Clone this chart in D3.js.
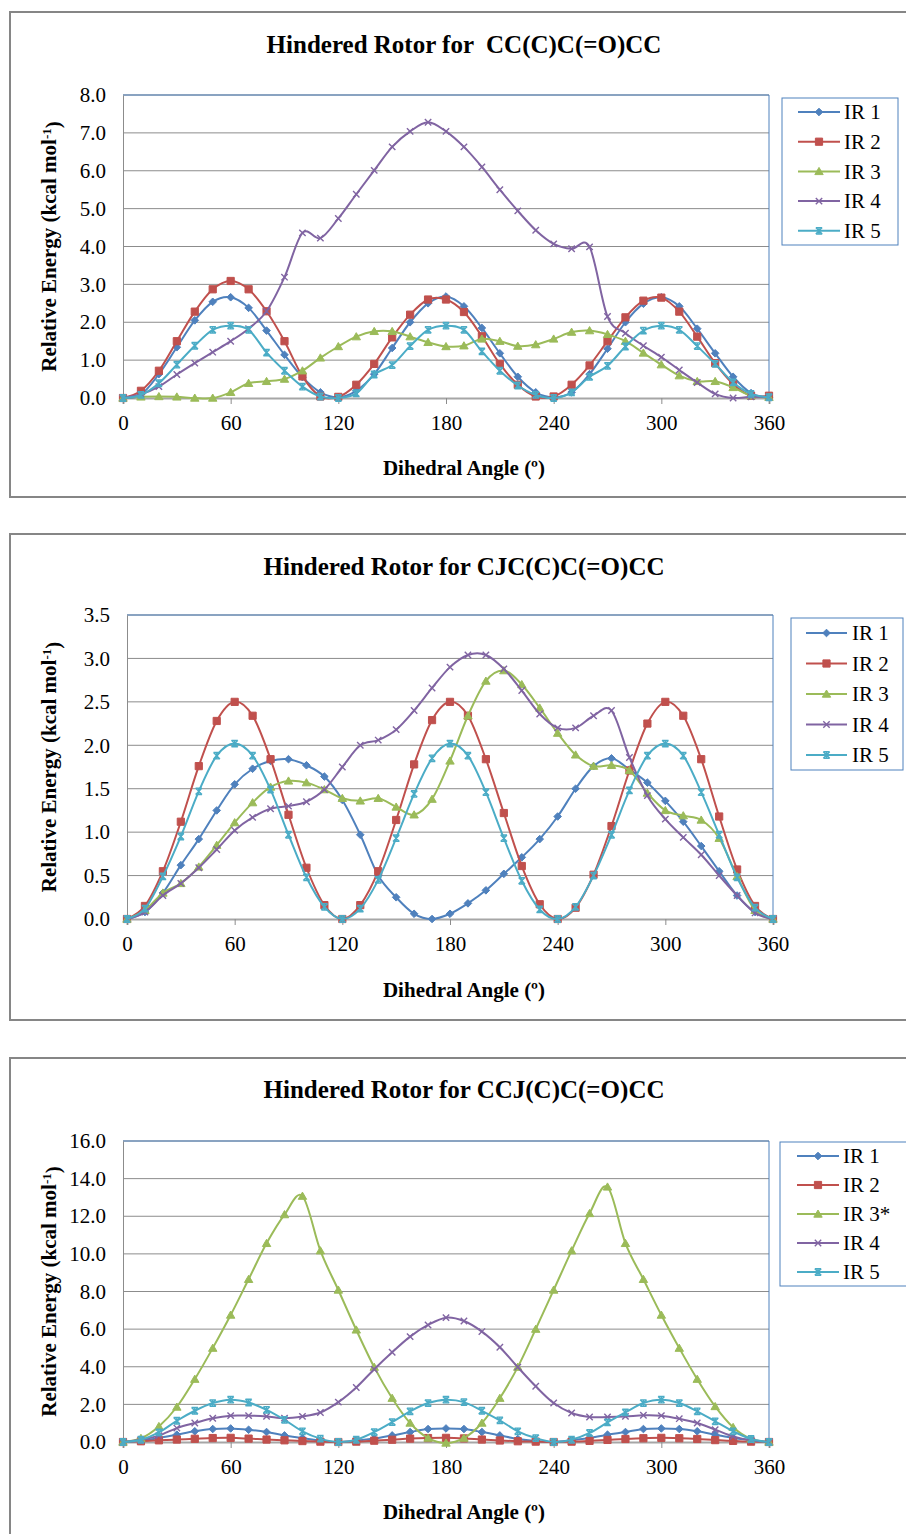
<!DOCTYPE html>
<html>
<head>
<meta charset="utf-8">
<script src="https://cdn.jsdelivr.net/npm/d3@7"></script>
<style>
  body { margin: 0; background: #fff; }
  text { font-family: "Liberation Serif", "Times New Roman", serif; fill: #000; }
</style>
</head>
<body>
<div class="chart"></div>
<script>
// dihedral angles (deg), shared by all three scans
const angles = [0, 10, 20, 30, 40, 50, 60, 70, 80, 90, 100, 110, 120, 130, 140, 150, 160, 170, 180,
    190, 200, 210, 220, 230, 240, 250, 260, 270, 280, 290, 300, 310, 320, 330, 340, 350, 360];
const xTicks = [0, 60, 120, 180, 240, 300, 360];
const seriesNames = ['IR 1', 'IR 2', 'IR 3', 'IR 4', 'IR 5'];
const seriesNamesCCJ = ['IR 1', 'IR 2', 'IR 3*', 'IR 4', 'IR 5'];

// CC(C)C(=O)CC
const ccTitle = 'Hindered Rotor for  CC(C)C(=O)CC';
const ccYTicks = [0, 1, 2, 3, 4, 5, 6, 7, 8];
const ccIR1 = [0, 0.09, 0.63, 1.34, 2.05, 2.54, 2.66, 2.38, 1.78, 1.14, 0.55, 0.15, 0.02, 0.19, 0.63, 1.32, 2.00, 2.50, 2.68,
    2.42, 1.85, 1.18, 0.56, 0.15, 0.02, 0.15, 0.63, 1.30, 2.00, 2.49, 2.66, 2.42, 1.83, 1.18, 0.56, 0.13, 0.02];
const ccIR2 = [0, 0.19, 0.72, 1.50, 2.28, 2.87, 3.09, 2.87, 2.29, 1.50, 0.57, 0.04, 0.03, 0.35, 0.90, 1.60, 2.20, 2.60, 2.60,
    2.27, 1.63, 0.90, 0.35, 0.04, 0.04, 0.35, 0.86, 1.50, 2.13, 2.57, 2.65, 2.28, 1.62, 0.92, 0.37, 0.06, 0.06];
const ccIR3 = [0, 0.03, 0.04, 0.03, 0.0, 0.0, 0.15, 0.39, 0.44, 0.50, 0.72, 1.06, 1.36, 1.62, 1.76, 1.76, 1.62, 1.47, 1.36,
    1.38, 1.56, 1.50, 1.37, 1.41, 1.56, 1.74, 1.78, 1.68, 1.50, 1.19, 0.88, 0.59, 0.44, 0.44, 0.28, 0.06, 0.02];
const ccIR4 = [0, 0.10, 0.30, 0.62, 0.92, 1.21, 1.50, 1.83, 2.29, 3.19, 4.36, 4.22, 4.74, 5.38, 6.01, 6.63, 7.04, 7.28, 7.04,
    6.63, 6.10, 5.50, 4.94, 4.43, 4.07, 3.94, 3.99, 2.15, 1.71, 1.38, 1.08, 0.74, 0.41, 0.11, 0.0, 0.03, 0.02];
const ccIR5 = [0, 0.08, 0.39, 0.88, 1.38, 1.80, 1.91, 1.80, 1.20, 0.72, 0.30, 0.04, 0.0, 0.12, 0.62, 0.87, 1.37, 1.80, 1.91,
    1.80, 1.23, 0.72, 0.33, 0.08, 0.0, 0.15, 0.56, 0.85, 1.36, 1.78, 1.91, 1.80, 1.37, 0.90, 0.41, 0.11, 0.02];

// CJC(C)C(=O)CC
const cjTitle = 'Hindered Rotor for CJC(C)C(=O)CC';
const cjYTicks = [0, 0.5, 1, 1.5, 2, 2.5, 3, 3.5];
const cjIR1 = [0, 0.08, 0.30, 0.62, 0.92, 1.25, 1.55, 1.73, 1.82, 1.84, 1.77, 1.64, 1.37, 0.97, 0.50, 0.25, 0.06, 0.0, 0.06,
    0.18, 0.33, 0.52, 0.71, 0.92, 1.18, 1.50, 1.76, 1.85, 1.72, 1.57, 1.36, 1.12, 0.84, 0.55, 0.27, 0.08, 0.0];
const cjIR2 = [0, 0.15, 0.55, 1.12, 1.76, 2.28, 2.50, 2.34, 1.84, 1.20, 0.59, 0.16, 0.0, 0.16, 0.55, 1.14, 1.78, 2.29, 2.50,
    2.34, 1.84, 1.22, 0.61, 0.17, 0.0, 0.13, 0.51, 1.07, 1.71, 2.25, 2.50, 2.34, 1.84, 1.18, 0.57, 0.15, 0.0];
const cjIR3 = [0, 0.10, 0.30, 0.41, 0.60, 0.85, 1.11, 1.34, 1.52, 1.59, 1.57, 1.49, 1.39, 1.36, 1.39, 1.29, 1.20, 1.38, 1.82,
    2.34, 2.74, 2.86, 2.70, 2.43, 2.14, 1.89, 1.76, 1.77, 1.71, 1.45, 1.25, 1.19, 1.14, 0.93, 0.49, 0.10, 0.0];
const cjIR4 = [0, 0.08, 0.27, 0.41, 0.59, 0.80, 1.02, 1.17, 1.27, 1.30, 1.35, 1.49, 1.75, 2.00, 2.06, 2.18, 2.40, 2.66, 2.90,
    3.04, 3.04, 2.88, 2.63, 2.36, 2.20, 2.20, 2.34, 2.40, 1.86, 1.42, 1.15, 0.94, 0.74, 0.50, 0.27, 0.07, 0.0];
const cjIR5 = [0, 0.12, 0.49, 0.95, 1.47, 1.88, 2.02, 1.88, 1.49, 0.97, 0.48, 0.14, 0.0, 0.12, 0.45, 0.93, 1.44, 1.85, 2.02,
    1.88, 1.46, 0.93, 0.44, 0.11, 0.0, 0.14, 0.50, 0.97, 1.48, 1.88, 2.02, 1.88, 1.46, 0.97, 0.48, 0.13, 0.0];

// CCJ(C)C(=O)CC
const ccjTitle = 'Hindered Rotor for CCJ(C)C(=O)CC';
const ccjYTicks = [0, 2, 4, 6, 8, 10, 12, 14, 16];
const ccjIR1 = [0, 0.07, 0.21, 0.39, 0.57, 0.69, 0.72, 0.65, 0.53, 0.35, 0.21, 0.07, 0.0, 0.07, 0.18, 0.35, 0.53, 0.69, 0.72,
    0.69, 0.53, 0.35, 0.16, 0.05, 0.0, 0.09, 0.21, 0.39, 0.53, 0.69, 0.72, 0.69, 0.57, 0.39, 0.21, 0.09, 0.0];
const ccjIR2 = [0, 0.04, 0.09, 0.13, 0.17, 0.21, 0.22, 0.18, 0.13, 0.09, 0.05, 0.02, 0.0, 0.02, 0.07, 0.12, 0.18, 0.21, 0.22,
    0.19, 0.13, 0.08, 0.04, 0.02, 0.0, 0.02, 0.06, 0.11, 0.16, 0.20, 0.22, 0.20, 0.16, 0.10, 0.06, 0.02, 0.0];
const ccjIR3 = [0, 0.20, 0.83, 1.86, 3.34, 4.99, 6.75, 8.65, 10.56, 12.09, 13.07, 10.17, 8.08, 5.96, 3.98, 2.33, 1.01, 0.21, -0.05,
    0.21, 1.01, 2.33, 3.98, 6.00, 8.08, 10.17, 12.15, 13.56, 10.56, 8.65, 6.75, 4.99, 3.34, 1.89, 0.78, 0.16, 0.0];
const ccjIR4 = [0, 0.12, 0.34, 0.74, 1.01, 1.26, 1.40, 1.40, 1.36, 1.27, 1.36, 1.57, 2.12, 2.90, 3.87, 4.77, 5.60, 6.22, 6.61,
    6.43, 5.87, 5.04, 3.98, 2.96, 2.07, 1.54, 1.33, 1.33, 1.36, 1.42, 1.40, 1.24, 1.01, 0.66, 0.30, 0.09, 0.0];
const ccjIR5 = [0, 0.12, 0.51, 1.13, 1.66, 2.07, 2.25, 2.10, 1.71, 1.18, 0.57, 0.18, 0.0, 0.12, 0.53, 1.06, 1.63, 2.07, 2.25,
    2.12, 1.66, 1.15, 0.57, 0.21, 0.0, 0.12, 0.48, 1.04, 1.57, 2.07, 2.25, 2.07, 1.63, 1.10, 0.57, 0.16, 0.0];

const colors = ['#4F81BD', '#C0504D', '#9BBB59', '#8064A2', '#4BACC6'];
const markers = ['diamond', 'square', 'triangle', 'cross', 'star'];

const svg = d3.select('.chart')
    .append('svg')
        .attr('width', 906)
        .attr('height', 1534);

// panel geometry
const panels = [
    { title: ccTitle, names: seriesNames, series: [ccIR1, ccIR2, ccIR3, ccIR4, ccIR5], yTicks: ccYTicks,
      box: [12, 497], titleY: 44, xTitleY: 468,
      plot: { left: 123, right: 769, top: 95, bottom: 398 },
      legend: { x: 782, y: 98, w: 116, h: 147, row0: 112, gap: 29.7, x1: 798, x2: 840, tx: 844 } },
    { title: cjTitle, names: seriesNames, series: [cjIR1, cjIR2, cjIR3, cjIR4, cjIR5], yTicks: cjYTicks,
      box: [534, 1020], titleY: 566, xTitleY: 990,
      plot: { left: 127, right: 773, top: 615, bottom: 919 },
      legend: { x: 791, y: 618, w: 112, h: 152, row0: 633, gap: 30.5, x1: 806, x2: 847, tx: 852 } },
    { title: ccjTitle, names: seriesNamesCCJ, series: [ccjIR1, ccjIR2, ccjIR3, ccjIR4, ccjIR5], yTicks: ccjYTicks,
      box: [1058, 1560], titleY: 1089, xTitleY: 1512,
      plot: { left: 123, right: 769, top: 1141, bottom: 1442 },
      legend: { x: 780, y: 1142, w: 140, h: 144, row0: 1156, gap: 29, x1: 797, x2: 839, tx: 843 } }
];

function drawMarker(sel, type, color) {
    const paths = {
        diamond: 'M0,-3.8L3.8,0L0,3.8L-3.8,0Z',
        square: 'M-3.6,-3.6H3.6V3.6H-3.6Z',
        triangle: 'M0,-4L4.2,3.2H-4.2Z',
        cross: 'M-3.2,-3.2L3.2,3.2M-3.2,3.2L3.2,-3.2',
        star: 'M-3.2,-3.2L3.2,3.2M-3.2,3.2L3.2,-3.2M0,-3.8V3.8M-3.2,-3.2H3.2M-3.2,3.2H3.2'
    };
    const open = type === 'cross' || type === 'star';
    sel.append('path')
        .attr('d', paths[type])
        .attr('fill', open ? 'none' : color)
        .attr('stroke', color)
        .attr('stroke-width', open ? 1.4 : 1);
}

panels.forEach(p => {
    const g = svg.append('g');
    const fmt = d3.format('.1f');

    // outer chart border
    g.append('rect')
        .attr('x', 10).attr('y', p.box[0])
        .attr('width', 910).attr('height', p.box[1] - p.box[0])
        .attr('fill', 'none')
        .attr('stroke', '#868686')
        .attr('stroke-width', 2);

    g.append('text')
        .attr('x', 464).attr('y', p.titleY)
        .attr('dy', '0.35em')
        .attr('text-anchor', 'middle')
        .style('font-size', '25px')
        .style('font-weight', 'bold')
        .style('white-space', 'pre')
        .text(p.title);

    const x = d3.scaleLinear().domain([0, 360]).range([p.plot.left, p.plot.right]);
    const y = d3.scaleLinear().domain([0, d3.max(p.yTicks)]).range([p.plot.bottom, p.plot.top]);

    // gridlines
    g.selectAll('.grid')
        .data(p.yTicks.slice(1))
        .enter()
        .append('line')
            .attr('x1', p.plot.left).attr('x2', p.plot.right)
            .attr('y1', d => y(d)).attr('y2', d => y(d))
            .attr('stroke', '#8c8c8c')
            .attr('stroke-width', 1);

    // plot area frame (top/right in blue)
    g.append('path')
        .attr('d', `M${p.plot.left},${y(d3.max(p.yTicks))}H${p.plot.right}V${p.plot.bottom}`)
        .attr('fill', 'none')
        .attr('stroke', '#4F81BD')
        .attr('stroke-width', 1);

    const yAxis = d3.axisLeft(y)
        .tickValues(p.yTicks)
        .tickFormat(fmt)
        .tickSize(0)
        .tickPadding(17);
    const xAxis = d3.axisBottom(x)
        .tickValues(xTicks)
        .tickSize(6)
        .tickPadding(11);

    g.append('g')
        .attr('transform', `translate(${p.plot.left},0)`)
        .call(yAxis)
        .call(a => a.select('.domain').attr('stroke', '#8c8c8c'))
        .selectAll('text')
        .style('font-size', '21px');

    g.append('g')
        .attr('transform', `translate(0,${p.plot.bottom})`)
        .call(xAxis)
        .call(a => a.select('.domain').attr('stroke', '#a6a6a6').attr('stroke-width', 2))
        .call(a => a.selectAll('.tick line').attr('stroke', '#8c8c8c'))
        .selectAll('text')
        .style('font-size', '21px');

    // axis titles
    const yt = g.append('text')
        .attr('transform', `translate(49,${(p.plot.top + p.plot.bottom) / 2}) rotate(-90)`)
        .attr('dy', '0.35em')
        .attr('text-anchor', 'middle')
        .style('font-size', '21px')
        .style('font-weight', 'bold');
    yt.append('tspan').text('Relative Energy (kcal mol');
    yt.append('tspan').attr('dy', '-0.45em').style('font-size', '13px').text('-1');
    yt.append('tspan').attr('dy', '0.45em').text(')');

    g.append('text')
        .attr('x', 464).attr('y', p.xTitleY)
        .attr('dy', '0.35em')
        .attr('text-anchor', 'middle')
        .style('font-size', '21px')
        .style('font-weight', 'bold')
        .text('Dihedral Angle (º)');

    const line = d3.line()
        .x((d, i) => x(angles[i]))
        .y(d => y(d))
        .curve(d3.curveCatmullRom.alpha(0));

    p.series.forEach((vals, k) => {
        g.append('path')
            .datum(vals)
            .attr('d', line)
            .attr('fill', 'none')
            .attr('stroke', colors[k])
            .attr('stroke-width', 2);

        g.selectAll('.m' + k)
            .data(vals)
            .enter()
            .append('g')
                .attr('transform', (d, i) => `translate(${x(angles[i])},${y(d)})`)
                .each(function() { drawMarker(d3.select(this), markers[k], colors[k]); });
    });

    // legend
    const L = p.legend;
    g.append('rect')
        .attr('x', L.x).attr('y', L.y)
        .attr('width', L.w).attr('height', L.h)
        .attr('fill', '#fff')
        .attr('stroke', '#4F81BD')
        .attr('stroke-width', 1);

    p.names.forEach((name, k) => {
        const ry = L.row0 + k * L.gap;
        g.append('line')
            .attr('x1', L.x1).attr('x2', L.x2)
            .attr('y1', ry).attr('y2', ry)
            .attr('stroke', colors[k])
            .attr('stroke-width', 2);
        drawMarker(g.append('g').attr('transform', `translate(${(L.x1 + L.x2) / 2},${ry})`), markers[k], colors[k]);
        g.append('text')
            .attr('x', L.tx).attr('y', ry)
            .attr('dy', '0.35em')
            .style('font-size', '21px')
            .text(name);
    });
});
</script>
</body>
</html>
